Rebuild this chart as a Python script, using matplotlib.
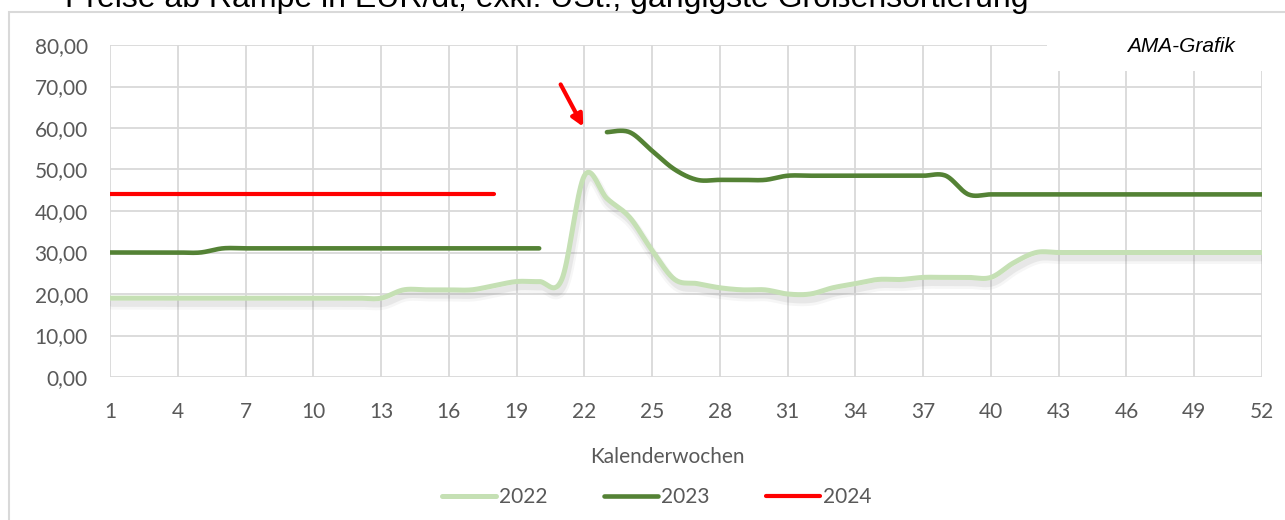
import numpy as np
import matplotlib
matplotlib.use("Agg")
import matplotlib.pyplot as plt
import matplotlib.patheffects as pe
from matplotlib.patches import Rectangle
from matplotlib.lines import Line2D
from matplotlib.ticker import FuncFormatter

weeks = list(range(1, 53))
nan = np.nan

prices_2022 = [19] * 13 + [21, 21, 21, 21, 22, 23, 23, 23.5, 48.5, 43, 38.5, 30.5,
                           23.5, 22.5, 21.5, 21, 21, 20, 20, 21.5, 22.5, 23.5, 23.5,
                           24, 24, 24, 24, 27.5, 30] + [30] * 10
prices_2023 = [30] * 5 + [31] * 15 + [nan, nan, 59, 59, 54.5, 50, 47.5, 47.5, 47.5,
                                      47.5] + [48.5] * 8 + [44] * 14
prices_2024 = [44] * 18 + [nan] * 34

series = [("2022", prices_2022, "#c5e0b4", 3.6, True),
          ("2023", prices_2023, "#548235", 3.3, False),
          ("2024", prices_2024, "#ff0000", 3.0, False)]

title = "Preise ab Rampe in EUR/dt, exkl. USt., gängigste Größensortierung"
x_ticks = list(range(1, 53, 3))
y_ticks = list(range(0, 90, 10))

# arrow pointing at week 22 (data coords)
arrow_tail = (20.95, 70.5)
arrow_head = (21.95, 60.3)

TXT = "#595959"
GRID = "#d9d9d9"


def smooth(xs, ys, n=20):
    # excel-like smoothed line (catmull-rom as bezier)
    xs = np.asarray(xs, float)
    ys = np.asarray(ys, float)
    if len(xs) < 2:
        return xs, ys
    px = np.concatenate([[xs[0]], xs, [xs[-1]]])
    py = np.concatenate([[ys[0]], ys, [ys[-1]]])
    t = np.linspace(0, 1, n)
    outx, outy = [], []
    for i in range(1, len(px) - 2):
        p0 = np.array([px[i], py[i]])
        p3 = np.array([px[i + 1], py[i + 1]])
        c1 = p0 + (p3 - np.array([px[i - 1], py[i - 1]])) / 6
        c2 = p3 - (np.array([px[i + 2], py[i + 2]]) - p0) / 6
        b = ((1 - t) ** 3)[:, None] * p0 + (3 * (1 - t) ** 2 * t)[:, None] * c1 \
            + (3 * (1 - t) * t ** 2)[:, None] * c2 + (t ** 3)[:, None] * p3
        outx.extend(b[:, 0])
        outy.extend(b[:, 1])
    return np.array(outx), np.array(outy)


def segments(xs, ys):
    seg = []
    for x, y in zip(xs, ys):
        if np.isnan(y):
            if seg:
                yield seg
            seg = []
        else:
            seg.append((x, y))
    if seg:
        yield seg


fig = plt.figure(figsize=(12.85, 5.2), dpi=100)
W, H = 1285, 520
ax = fig.add_axes([110 / W, 1 - 377 / H, (1262 - 110) / W, (377 - 45) / H])

handles = []
for label, vals, color, lw, shadow in series:
    for seg in segments(weeks, vals):
        sx, sy = smooth([p[0] for p in seg], [p[1] for p in seg])
        effects = None
        if shadow:
            effects = [pe.SimpleLineShadow(offset=(1.5, -4.5), shadow_color="#808080",
                                           alpha=0.07, linewidth=lw + 4),
                       pe.SimpleLineShadow(offset=(1.5, -4), shadow_color="#808080",
                                           alpha=0.12, linewidth=lw + 1),
                       pe.Normal()]
        ax.plot(sx, sy, color=color, lw=lw, solid_capstyle="round",
                path_effects=effects, zorder=3)
    handles.append(Line2D([], [], color=color, lw=lw, solid_capstyle="round", label=label))

ax.annotate("", xy=arrow_head, xytext=arrow_tail,
            arrowprops=dict(arrowstyle="-|>,head_length=0.7,head_width=0.35",
                            color="#ff0000", lw=3, shrinkA=0, shrinkB=0), zorder=4)

ax.set_xlim(1, 52)
ax.set_ylim(0, 80)
ax.set_xticks(x_ticks)
ax.set_yticks(y_ticks)
ax.yaxis.set_major_formatter(FuncFormatter(lambda v, p: f"{v:.2f}".replace(".", ",")))
ax.grid(True, color=GRID, lw=1.3)
ax.set_axisbelow(True)
for s in ax.spines.values():
    s.set_visible(False)
ax.tick_params(length=0, labelsize=15, labelcolor=TXT)
ax.tick_params(axis="x", pad=18)
ax.tick_params(axis="y", pad=16)
for lab in ax.get_xticklabels() + ax.get_yticklabels():
    lab.set_fontfamily("Lato")

# chart frame
fig.add_artist(Rectangle((9 / W, -0.1), 1.2, 1.1 - 12 / H, transform=fig.transFigure,
                         fill=False, edgecolor=GRID, lw=1.5))
# white box behind the credit
fig.add_artist(Rectangle((1047 / W, 1 - 71 / H), 225 / W, 40 / H, transform=fig.transFigure,
                         facecolor="white", edgecolor="none", zorder=2))
fig.text(1235 / W, 1 - 46 / H, "AMA-Grafik", ha="right", va="center", fontsize=15,
         style="italic", family="Liberation Sans", color="#000000", zorder=3)

# title is cut at the top edge as in the source screenshot
fig.text(65 / W, 1 - 7 / H, title, ha="left", va="baseline", fontsize=23,
         family="Liberation Sans", color="#000000")
fig.text(667 / W, 1 - 457 / H, "Kalenderwochen", ha="center", va="center",
         fontsize=15, family="Lato", color=TXT)

leg = fig.legend(handles=handles, loc="center", bbox_to_anchor=(657 / W, 1 - 497 / H),
                 ncol=3, frameon=False, handlelength=2.6, handletextpad=0.15,
                 columnspacing=2.7, prop={"family": "Lato", "size": 15})
for t in leg.get_texts():
    t.set_color(TXT)

fig.savefig("out.png", dpi=100)
